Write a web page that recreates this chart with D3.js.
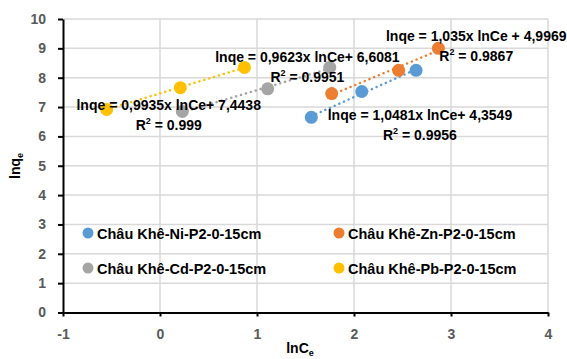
<!DOCTYPE html>
<html>
<head>
<meta charset="utf-8">
<script src="https://cdn.jsdelivr.net/npm/d3@7"></script>
<style>
  body { margin: 0; background: #fff; }
  text { font-family: "Liberation Sans", Arial, sans-serif; font-weight: bold; }
</style>
</head>
<body>
<svg id="chart" width="567" height="359"></svg>
<script>
// series (lnCe, lnqe)
var seriesNames = ["Châu Khê-Ni-P2-0-15cm", "Châu Khê-Zn-P2-0-15cm", "Châu Khê-Cd-P2-0-15cm", "Châu Khê-Pb-P2-0-15cm"];
var seriesColors = ["#5B9BD5", "#ED7D31", "#A5A5A5", "#FFC000"];
var niX = [1.56, 2.08, 2.64], niY = [6.65, 7.53, 8.25];
var znX = [1.77, 2.46, 2.87], znY = [7.46, 8.25, 9.0];
var cdX = [0.23, 1.11, 1.75], cdY = [6.85, 7.62, 8.35];
var pbX = [-0.55, 0.21, 0.87], pbY = [6.92, 7.66, 8.35];
var equations = ["lnqe = 1,0481x lnCe+ 4,3549", "lnqe = 1,035x lnCe + 4,9969", "lnqe = 0,9623x lnCe+ 6,6081", "lnqe = 0,9935x lnCe+ 7,4438"];
var r2Labels = ["0.9956", "0.9867", "0.9951", "0.999"];
var xTicks = [-1, 0, 1, 2, 3, 4];
var yTicks = [0, 1, 2, 3, 4, 5, 6, 7, 8, 9, 10];

var xs = [niX, znX, cdX, pbX], ys = [niY, znY, cdY, pbY];
// where each equation label sits (data coords of the label centre)
var labelPos = [[2.68, 6.55], [3.26, 9.25], [1.52, 8.55], [0.09, 6.9]];

var svg = d3.select("#chart");
var x = d3.scaleLinear().domain([-1, 4]).range([63, 548]);
var y = d3.scaleLinear().domain([0, 10]).range([312.5, 19]);

// gridlines
var grid = svg.append("g").attr("stroke", "#D9D9D9").attr("stroke-width", 1.5);
grid.selectAll(".h").data(yTicks.slice(1)).enter().append("line")
  .attr("x1", x(-1)).attr("x2", x(4))
  .attr("y1", d => y(d)).attr("y2", d => y(d));
grid.selectAll(".v").data(xTicks.slice(1)).enter().append("line")
  .attr("y1", y(0)).attr("y2", y(10))
  .attr("x1", d => x(d)).attr("x2", d => x(d));

// axes
var xAxis = svg.append("g").attr("transform", "translate(0," + y(0) + ")")
  .call(d3.axisBottom(x).tickValues(xTicks).tickFormat(d => String(d)).tickSizeInner(4).tickSizeOuter(0).tickPadding(13));
var yAxis = svg.append("g").attr("transform", "translate(" + x(-1) + ",0)")
  .call(d3.axisLeft(y).tickValues(yTicks).tickFormat(d => String(d)).tickSizeInner(5).tickSizeOuter(0).tickPadding(12));
[xAxis, yAxis].forEach(a => {
  a.select(".domain").attr("stroke", "#000").attr("stroke-width", 2);
  a.selectAll(".tick line").attr("stroke", "#000").attr("stroke-width", 2);
  a.selectAll(".tick text").attr("fill", "#595959").style("font-size", "14px")
    .style("font-family", "Liberation Sans, Arial, sans-serif").style("font-weight", "bold");
});

// trendlines (least squares over each series' range)
function fit(xv, yv) {
  var mx = d3.mean(xv), my = d3.mean(yv);
  var b = d3.sum(xv, (v, i) => (v - mx) * (yv[i] - my)) / d3.sum(xv, v => (v - mx) * (v - mx));
  return [b, my - b * mx];
}
var trend = svg.append("g");
xs.forEach((xv, s) => {
  var f = fit(xv, ys[s]);
  var x0 = d3.min(xv), x1 = d3.max(xv);
  trend.append("line")
    .attr("x1", x(x0)).attr("y1", y(f[0] * x0 + f[1]))
    .attr("x2", x(x1)).attr("y2", y(f[0] * x1 + f[1]))
    .attr("stroke", seriesColors[s]).attr("stroke-width", 2.5)
    .attr("stroke-dasharray", "0.1 5").attr("stroke-linecap", "round");
});

// points
var pts = svg.append("g");
xs.forEach((xv, s) => {
  pts.selectAll(".p" + s).data(xv).enter().append("circle")
    .attr("cx", d => x(d)).attr("cy", (d, i) => y(ys[s][i]))
    .attr("r", 6.5).attr("fill", seriesColors[s]);
});

// equation labels
var lab = svg.append("g").attr("fill", "#000").style("font-size", "14px").attr("text-anchor", "middle");
equations.forEach((eq, s) => {
  var cx = x(labelPos[s][0]), cy = y(labelPos[s][1]);
  lab.append("text").attr("x", cx).attr("y", cy).text(eq);
  var t = lab.append("text").attr("x", cx).attr("y", cy + 20);
  t.append("tspan").text("R");
  t.append("tspan").attr("dy", -6).style("font-size", "9px").text("2");
  t.append("tspan").attr("dy", 6).text(" = " + r2Labels[s]);
});

// legend
var legPos = [[88, 233], [339, 233], [88, 268], [339, 268]];
var leg = svg.append("g");
seriesNames.forEach((n, s) => {
  leg.append("circle").attr("cx", legPos[s][0]).attr("cy", legPos[s][1]).attr("r", 5.5).attr("fill", seriesColors[s]);
  leg.append("text").attr("x", legPos[s][0] + 9).attr("y", legPos[s][1] + 5.5)
    .style("font-size", "14.5px").attr("fill", "#000").text(n);
});

// axis titles
var xt = svg.append("text").attr("x", 300).attr("y", 353).attr("text-anchor", "middle").style("font-size", "14px");
xt.append("tspan").text("lnC");
xt.append("tspan").attr("dy", 3).style("font-size", "9px").text("e");
var yt = svg.append("text").attr("transform", "translate(20,166) rotate(-90)").attr("text-anchor", "middle").style("font-size", "14px");
yt.append("tspan").text("lnq");
yt.append("tspan").attr("dy", 3).style("font-size", "9px").text("e");
</script>
</body>
</html>
